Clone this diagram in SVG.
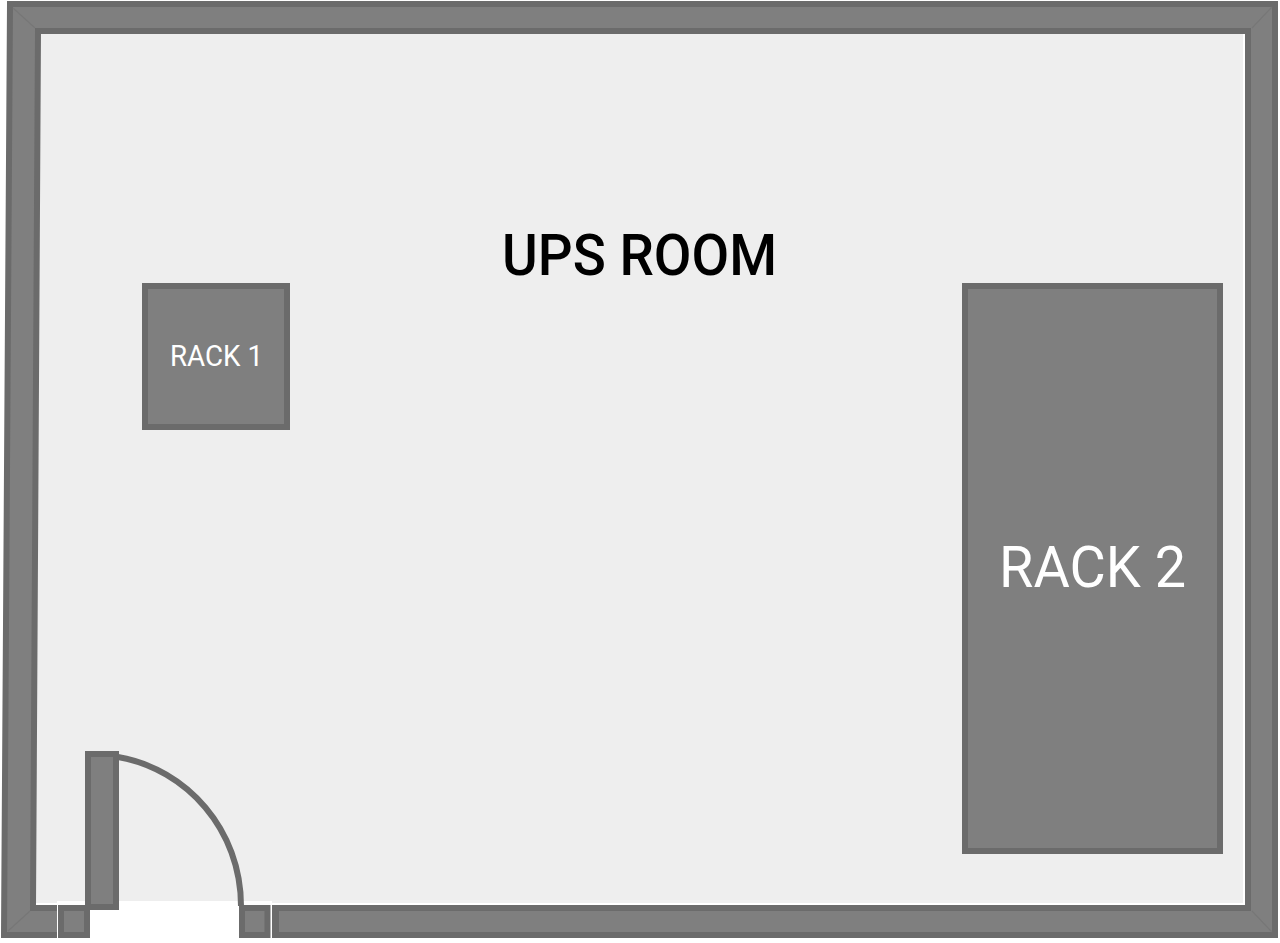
<svg xmlns="http://www.w3.org/2000/svg" width="1280" height="943" viewBox="0 0 1280 943">
<style>
.wall{fill:#7f7f7f;stroke:#6b6b6b;stroke-width:6;stroke-linejoin:miter}
.mitre{stroke:#777777;stroke-width:1.2;fill:none}
.white{font-family:Roboto,"Liberation Sans",sans-serif;fill:#ffffff;font-weight:400}
</style>
<rect width="1280" height="943" fill="#ffffff"/>
<g id="floor"><polygon points="40,33 1243,33 1243,903 35,903" fill="#eeeeee"/></g>
<g id="walls">
<path class="wall" fill-rule="evenodd" d="M10,4 H1275 V935 H4 Z M38,31 L1248,31 V908 H33 Z"/>
<path class="mitre" d="M13,8 L35,28 M1272,7 L1252,28 M1272,932 L1252,911 M8,931 L30,911"/>
</g>
<rect x="57" y="901" width="215" height="42" fill="#ffffff"/>
<g id="jamb-left"><rect class="wall" x="61" y="908" width="26" height="27"/></g>
<g id="jamb-right"><rect class="wall" x="242" y="908" width="25.5" height="27"/></g>
<g id="wall-bottom"><rect x="272" y="905" width="7" height="33" fill="#6b6b6b"/></g>
<g id="door">
<rect class="wall" x="88" y="754" width="28" height="153"/>
<path d="M118,757 C187,769 241,830 241,906" fill="none" stroke="#6b6b6b" stroke-width="6"/>
</g>
<g id="rack1">
<rect class="wall" x="145" y="286" width="142" height="141"/>
<text class="white" x="170" y="366" font-size="29" textLength="93" lengthAdjust="spacingAndGlyphs">RACK 1</text>
</g>
<g id="rack2">
<rect class="wall" x="965" y="286" width="255" height="565"/>
<text class="white" x="999" y="587" font-size="57" textLength="187" lengthAdjust="spacingAndGlyphs">RACK 2</text>
</g>
<g id="title">
<text x="502" y="275" font-family="Roboto,'Liberation Sans',sans-serif" font-size="57" font-weight="500" fill="#000000" textLength="275" lengthAdjust="spacingAndGlyphs">UPS ROOM</text>
</g>
</svg>
